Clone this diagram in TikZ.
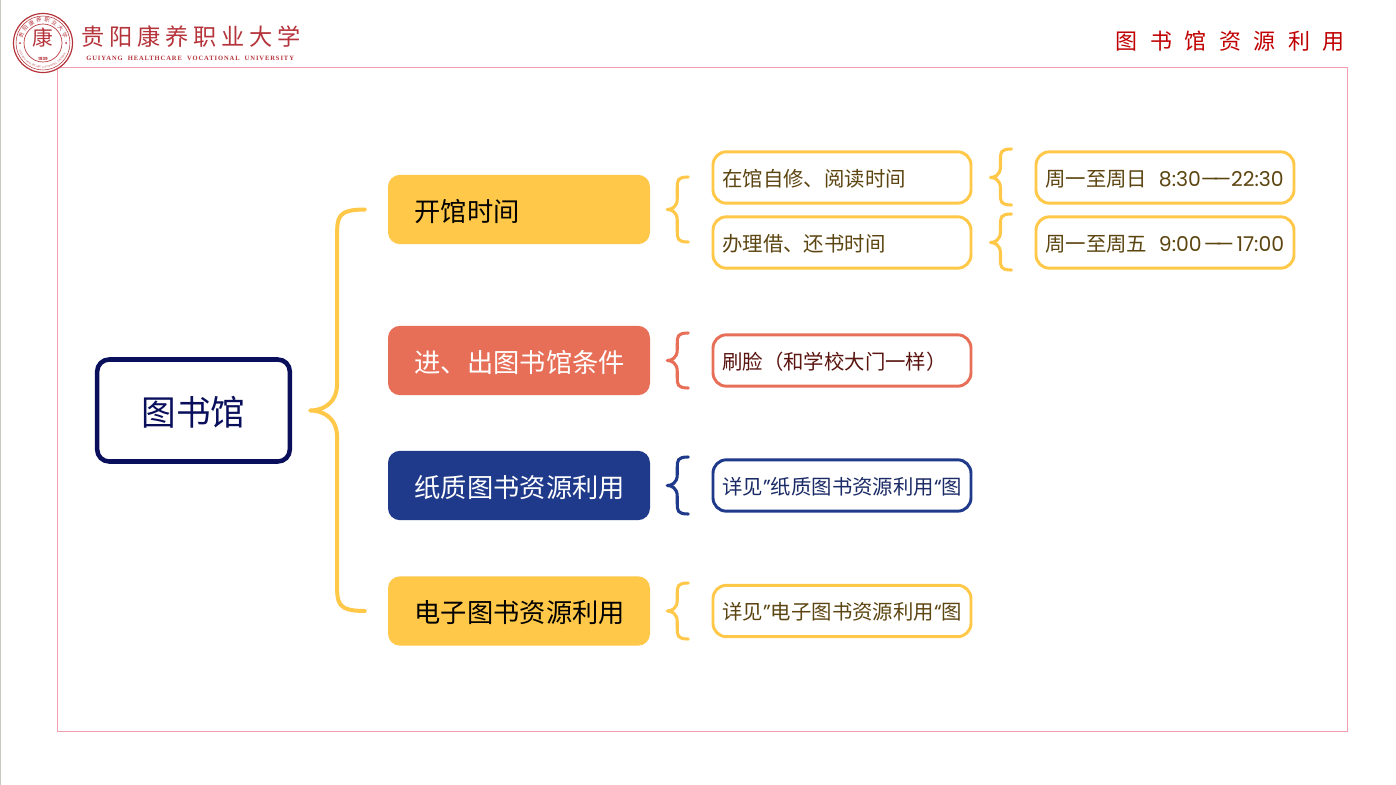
\documentclass[tikz,border=0pt]{standalone}
\usepackage{fontspec}
\usetikzlibrary{calc,decorations.text}
\setmainfont{Noto Sans CJK SC}
\newfontfamily\latf{Poppins}
\newfontfamily\logof[LetterSpace=14]{Liberation Serif}
\definecolor{gold}{HTML}{FFC848}
\definecolor{coral}{HTML}{E76F58}
\definecolor{navyb}{HTML}{1F3A8A}
\definecolor{navyd}{HTML}{0A0F5C}
\definecolor{brownt}{HTML}{5C4510}
\definecolor{redt}{HTML}{5A1510}
\definecolor{bluet}{HTML}{1A2A66}
\definecolor{framepink}{HTML}{F0A0AE}
\definecolor{framegray}{HTML}{CBC7C1}
\definecolor{logored}{HTML}{B5333A}
\definecolor{titlered}{HTML}{C00000}
\newcommand{\lowr}[2]{\raisebox{-#1}[0.88em][0.12em]{#2}}
\newcommand{\tdash}{{\latf —\kern-4.5pt—}}
\tikzset{
  x=0.75pt,y=-0.75pt,
  rootbox/.style={draw=navyd,line width=3.4pt,rounded corners=9pt,fill=white,minimum width=144.5pt,minimum height=76.5pt,inner sep=0pt,text=navyd,font=\fontsize{26}{30}\selectfont},
  mainbox/.style={rounded corners=9pt,minimum width=196.5pt,minimum height=52pt,inner sep=0pt,align=left,text width=156.5pt,inner xsep=20pt,font=\fontsize{19.7}{24}\selectfont},
  subbox/.style={draw=#1,fill=white,line width=2.2pt,rounded corners=10pt,minimum width=193.5pt,minimum height=38.5pt,inner sep=0pt,font=\fontsize{15.3}{19}\selectfont},
  timebox/.style={draw=gold,fill=white,line width=2.2pt,rounded corners=10pt,minimum width=193.5pt,minimum height=38.5pt,inner sep=0pt,text=brownt,font=\fontsize{15.3}{19}\selectfont},
  brc/.style={line width=#1,line cap=round,line join=round},
  brc/.default=2.3pt,
}
% #1 options, #2 tip, #3 top end, #4 bottom end, #5 spine offset, #6 curve radius
\newcommand{\bracket}[6]{%
  \draw[#1] let \p1=(#2),\p2=(#3),\p3=(#4) in
    (\x2,\y2) .. controls ($(\x1,\y2)+(#5,0)$) and ($(\x1,\y2)+(#5,#6*0.3)$) .. ($(\x1,\y2)+(#5,#6)$)
    -- ($(\x1,\y1)+(#5,-#6)$)
    .. controls ($(\x1,\y1)+(#5,-#6*0.2)$) and ($(\x1,\y1)+(#5*0.4,0)$) .. (\x1,\y1)
    .. controls ($(\x1,\y1)+(#5*0.4,0)$) and ($(\x1,\y1)+(#5,#6*0.2)$) .. ($(\x1,\y1)+(#5,#6)$)
    -- ($(\x1,\y3)+(#5,-#6)$)
    .. controls ($(\x1,\y3)+(#5,-#6*0.3)$) and ($(\x1,\y3)+(#5,0)$) .. (\x3,\y3);}
\begin{document}
\begin{tikzpicture}
\useasboundingbox (0,0) rectangle (1396,785);
\fill[white] (0,0) rectangle (1396,785);
\draw[framegray,line width=1pt] (0.6,0) -- (0.6,785);
\draw[framepink,line width=1pt] (57.5,67.5) rectangle (1347.5,731.5);
% logo
\coordinate (seal) at (43,43);
\draw[logored,line width=0.9pt,fill=white] (seal) circle (29.5);
\draw[logored,line width=0.4pt] (seal) circle (27);
\draw[logored,line width=0.5pt] (seal) circle (19);
\begin{scope}[shift={(seal)},y=0.75pt]
  \foreach \a/\ch [count=\i] in {160/贵,140/阳,120/康,100/养,80/职,60/业,40/大,20/学}{
    \node[text=logored,font=\fontsize{4}{4}\selectfont,inner sep=0pt,rotate=\a-90,name=ring\i] at (\a:23) {\ch};
  }
  \fill[logored] (180:23) circle (1);
  \fill[logored] (0:23) circle (1);
  \path[decorate,decoration={text along path,text align=center,
    text={|\logof\fontsize{1.9}{2}\selectfont\color{logored}|GUIYANG HEALTHCARE VOCATIONAL UNIVERSITY}}]
    (205:25) arc[start angle=205,end angle=335,radius=25];
\end{scope}
\node[text=logored,font=\fontsize{15.5}{16}\selectfont,inner sep=0pt] (sealtxt) at (43,37.5) {康};
\node[text=logored,font=\latf\bfseries\fontsize{3.2}{3.6}\selectfont,inner sep=0pt] (sealyr) at (43,58.5) {1939};
\node[text=logored,font=\fontsize{17.4}{20}\selectfont,inner sep=0pt,anchor=west] (logocn) at (81,37) {贵\hspace{3.6pt}阳\hspace{3.6pt}康\hspace{3.6pt}养\hspace{3.6pt}职\hspace{3.6pt}业\hspace{3.6pt}大\hspace{3.6pt}学};
\node[text=logored,font=\logof\bfseries\fontsize{4.9}{6}\selectfont,inner sep=0pt,anchor=west] (logoen) at (86,58) {GUIYANG\ \ HEALTHCARE\ \ VOCATIONAL\ \ UNIVERSITY};
\node[text=titlered,font=\fontsize{16.5}{20}\selectfont,inner sep=0pt,anchor=east] (title) at (1345,41) {图\hspace{9.4pt}书\hspace{9.4pt}馆\hspace{9.4pt}资\hspace{9.4pt}源\hspace{9.4pt}利\hspace{9.4pt}用};
% nodes
\node[rootbox] (root) at (193.5,410.5) {\lowr{1.5pt}{图书馆}};
\node[mainbox,fill=gold,text=black] (m1) at (519,209.5) {\lowr{1.5pt}{开馆时间}};
\node[mainbox,fill=coral,text=white] (m2) at (519,360.5) {\lowr{1.5pt}{进、出图书馆条件}};
\node[mainbox,fill=navyb,text=white] (m3) at (519,485.5) {\lowr{1.5pt}{纸质图书资源利用}};
\node[mainbox,fill=gold,text=black] (m4) at (519,611) {\lowr{1.5pt}{电子图书资源利用}};
\node[subbox=gold,text=brownt,text width=179.5pt,align=left] (s1) at (842,177.5) {\lowr{0.8pt}{在馆自修、阅读时间}};
\node[subbox=gold,text=brownt,text width=179.5pt,align=left] (s2) at (842,242.5) {\lowr{0.8pt}{办理借、还书时间}};
\node[subbox=coral,text=redt,text width=179.5pt,align=left] (s3) at (842,360.5) {\lowr{0.8pt}{刷脸（和学校大门一样）}};
\node[subbox=navyb,text=bluet,text width=179.5pt,align=left] (s4) at (842,485.5) {\lowr{0.8pt}{详见{\latf”}纸质图书资源利用{\latf“}图}};
\node[subbox=gold,text=brownt,text width=179.5pt,align=left] (s5) at (842,611) {\lowr{0.8pt}{详见{\latf”}电子图书资源利用{\latf“}图}};
\node[timebox,text width=179.5pt,align=left] (t1) at (1165,177.5) {\lowr{0.8pt}{周一至周日\ \ \kern-1.5pt{\latf 8:30}\tdash{\latf 22:30}}};
\node[timebox,text width=179.5pt,align=left] (t2) at (1165,242.5) {\lowr{0.8pt}{周一至周五\ \ \kern-1.5pt{\latf 9:00}\kern1.5pt\tdash\kern2pt{\latf 17:00}}};
% brackets
\coordinate (btip) at ($(root.east)+(18,0)$);
\coordinate (btop) at ($(m1.west)+(-23,0)$);
\coordinate (bbot) at ($(m4.west)+(-23,0)$);
\bracket{gold,brc=3pt}{btip}{btop}{bbot}{27}{27}
\foreach \nm/\cl/\yt/\yb/\src in {a/gold/177/242/m1,b/coral/333/388/m2,c/navyb/457/514/m3,d/gold/583/639/m4}{
  \coordinate (\nm tip) at ($(\src.east)+(17,0)$);
  \path let \p1=(\nm tip) in coordinate (\nm top) at ({\x1+15.75pt},{-\yt*0.75pt}) coordinate (\nm bot) at ({\x1+15.75pt},{-\yb*0.75pt});
  \bracket{\cl,brc}{\nm tip}{\nm top}{\nm bot}{10}{11}
}
\foreach \nm/\yt/\yb/\src in {e/149/205/s1,f/214/270/s2}{
  \coordinate (\nm tip) at ($(\src.east)+(18,0)$);
  \path let \p1=(\nm tip) in coordinate (\nm top) at ({\x1+15.75pt},{-\yt*0.75pt}) coordinate (\nm bot) at ({\x1+15.75pt},{-\yb*0.75pt});
  \bracket{gold,brc}{\nm tip}{\nm top}{\nm bot}{10}{11}
}
\end{tikzpicture}
\end{document}
